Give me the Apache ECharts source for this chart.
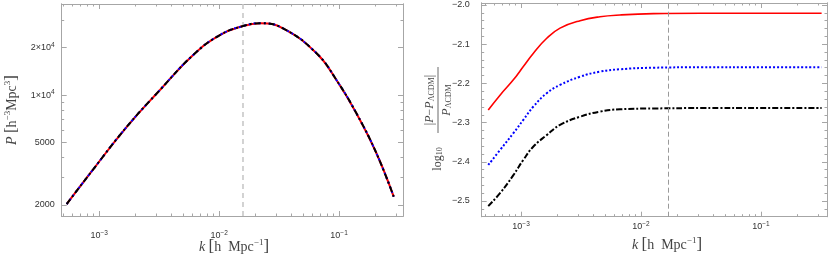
<!DOCTYPE html>
<html><head><meta charset="utf-8">
<script src="https://cdn.jsdelivr.net/npm/echarts@6/dist/echarts.min.js"></script>
<style>html,body{margin:0;padding:0;background:#fff}#c{width:830px;height:255px}</style>
</head><body><div id="c"></div><script>
// ---- data ----
const kLeft = [5.35e-4, 8.91e-4, 1.69e-3, 3.21e-3, 6.07e-3, 0.01014, 0.01585, 0.0221, 0.0341, 0.0649, 0.0951, 0.1396, 0.205, 0.2857];
const pLeft = [2028, 3370, 6260, 10770, 17970, 24080, 27480, 28620, 26560, 18430, 12470, 7650, 4266, 2259];

const kRight = [5.33e-4, 6.68e-4, 8.63e-4, 1.045e-3, 1.268e-3, 1.637e-3, 2.113e-3, 3.105e-3, 4.55e-3, 6.68e-3, 0.01268, 0.0316, 0.1, 0.32];
const redRight = [-2.268, -2.230, -2.191, -2.157, -2.123, -2.085, -2.059, -2.040, -2.030, -2.0255, -2.022, -2.021, -2.021, -2.021];
const blueRight = [-2.408, -2.370, -2.327, -2.293, -2.259, -2.225, -2.204, -2.183, -2.170, -2.164, -2.160, -2.159, -2.159, -2.159];
const blackRight = [-2.513, -2.480, -2.434, -2.395, -2.361, -2.332, -2.306, -2.285, -2.272, -2.266, -2.264, -2.263, -2.263, -2.263];

const kTickLabels = [1e-3, 1e-2, 1e-1];
const pTickLabels = [2000, 5000, 10000, 20000];
const pMinorTicks = [3000, 4000, 6000, 7000, 8000, 9000, 30000];
const dTickLabels = [-2.5, -2.4, -2.3, -2.2, -2.1, -2.0];
const kMarkLeft = 0.0160;
const kMarkRight = 0.0170;

// ---- helpers ----
const L = Math.log10;
const frame = '#a6a6a6';
const sans = 'Liberation Sans, Arial, sans-serif';
const serif = 'Liberation Serif, Times New Roman, serif';
const labColor = '#333';

function minorDecades(lo, hi) {
  const out = [];
  for (let d = Math.floor(lo); d <= Math.ceil(hi); d++)
    for (let m = 2; m <= 9; m++) { const v = d + L(m); if (v > lo && v < hi) out.push(v); }
  return out;
}
function tickAxis(g, pos, min, max, vals, len, label) {
  return {
    type: 'value', gridIndex: g, position: pos, min: min, max: max,
    axisLine: { show: true, onZero: false, lineStyle: { color: frame, width: 1 } },
    axisTick: { show: true, inside: true, length: len, customValues: vals, lineStyle: { color: frame, width: 1 } },
    axisLabel: label ? Object.assign({ customValues: vals }, label) : { show: false },
    splitLine: { show: false }, z: 3
  };
}
const xAxes = [], yAxes = [], series = [];
const addX = a => { xAxes.push(a); return xAxes.length - 1; };
const addY = a => { yAxes.push(a); return yAxes.length - 1; };

const xLabelRich = {
  b: { fontFamily: sans, fontSize: 9, color: labColor, lineHeight: 12 },
  s: { fontFamily: sans, fontSize: 6.5, color: labColor, verticalAlign: 'top', lineHeight: 8 }
};
const xLabelFmt = v => '{b|10}{s|−' + Math.abs(Math.round(v)) + '}';
const lineOpts = { smooth: 0.45, showSymbol: false };

// ---- left panel (logarithmic axes: values plotted as log10) ----
const lkMin = 4.864e-4, lkMax = 0.3415, pMin = 1702, pMax = 37920;
const lx0 = L(lkMin), lx1 = L(lkMax), ly0 = L(pMin), ly1 = L(pMax);
const xDataL = addX(tickAxis(0, 'bottom', lx0, lx1, kTickLabels.map(L), 5, { formatter: xLabelFmt, rich: xLabelRich, margin: 14 }));
addX(tickAxis(0, 'bottom', lx0, lx1, minorDecades(lx0, lx1), 2.5, null));
addX(tickAxis(0, 'top', lx0, lx1, kTickLabels.map(L), 5, null));
addX(tickAxis(0, 'top', lx0, lx1, minorDecades(lx0, lx1), 2.5, null));
const yDataL = addY(tickAxis(0, 'left', ly0, ly1, pTickLabels.map(L), 5, {
  margin: 7,
  formatter: v => { const p = Math.round(Math.pow(10, v)); return p >= 10000 ? '{b|' + Math.round(p / 10000) + '×10}{s|4}' : '{b|' + p + '}'; },
  rich: xLabelRich
}));
addY(tickAxis(0, 'left', ly0, ly1, pMinorTicks.map(L), 2.5, null));
addY(tickAxis(0, 'right', ly0, ly1, pTickLabels.map(L), 5, null));
addY(tickAxis(0, 'right', ly0, ly1, pMinorTicks.map(L), 2.5, null));

const leftData = kLeft.map((k, i) => [L(k), L(pLeft[i])]);
series.push(Object.assign({ type: 'line', xAxisIndex: xDataL, yAxisIndex: yDataL, data: leftData,
  lineStyle: { color: '#ff0000', width: 2 }, z: 4,
  markLine: { silent: true, symbol: 'none', label: { show: false }, animation: false,
    lineStyle: { color: '#c8c8c8', type: [5, 4], width: 1.6 }, data: [{ xAxis: L(kMarkLeft) }] } }, lineOpts));
series.push(Object.assign({ type: 'line', xAxisIndex: xDataL, yAxisIndex: yDataL, data: leftData,
  lineStyle: { color: '#0000ff', width: 2, type: [2, 3] }, z: 5 }, lineOpts));
series.push(Object.assign({ type: 'line', xAxisIndex: xDataL, yAxisIndex: yDataL, data: leftData,
  lineStyle: { color: '#000000', width: 2, type: [6, 3, 2, 3] }, z: 6 }, lineOpts));

// ---- right panel ----
const rkMin = 4.70e-4, rkMax = 0.3548, dMin = -2.54, dMax = -1.995;
const rx0 = L(rkMin), rx1 = L(rkMax);
const dMinor = [];
for (let i = 0; i <= 27; i++) { const v = -2.54 + i * 0.02; if (Math.abs(Math.round(v * 10) - v * 10) > 0.01) dMinor.push(+v.toFixed(2)); }
const xDataR = addX(tickAxis(1, 'bottom', rx0, rx1, kTickLabels.map(L), 5, { formatter: xLabelFmt, rich: xLabelRich, margin: 4 }));
addX(tickAxis(1, 'bottom', rx0, rx1, minorDecades(rx0, rx1), 2.5, null));
addX(tickAxis(1, 'top', rx0, rx1, kTickLabels.map(L), 5, null));
addX(tickAxis(1, 'top', rx0, rx1, minorDecades(rx0, rx1), 2.5, null));
const yDataR = addY(tickAxis(1, 'left', dMin, dMax, dTickLabels, 5, {
  margin: 12, fontFamily: sans, fontSize: 9, color: labColor,
  formatter: v => (v < 0 ? '−' : '') + Math.abs(v).toFixed(1)
}));
addY(tickAxis(1, 'left', dMin, dMax, dMinor, 2.5, null));
addY(tickAxis(1, 'right', dMin, dMax, dTickLabels, 5, null));
addY(tickAxis(1, 'right', dMin, dMax, dMinor, 2.5, null));

series.push(Object.assign({ type: 'line', xAxisIndex: xDataR, yAxisIndex: yDataR, data: kRight.map((k, i) => [L(k), redRight[i]]),
  lineStyle: { color: '#ff0000', width: 1.6 }, z: 4,
  markLine: { silent: true, symbol: 'none', label: { show: false }, animation: false,
    lineStyle: { color: '#9a9a9a', type: [5, 3], width: 1 }, data: [{ xAxis: L(kMarkRight) }] } }, lineOpts));
series.push(Object.assign({ type: 'line', xAxisIndex: xDataR, yAxisIndex: yDataR, data: kRight.map((k, i) => [L(k), blueRight[i]]),
  lineStyle: { color: '#0000ff', width: 2, type: [2, 2] }, z: 4 }, lineOpts));
series.push(Object.assign({ type: 'line', xAxisIndex: xDataR, yAxisIndex: yDataR, data: kRight.map((k, i) => [L(k), blackRight[i]]),
  lineStyle: { color: '#000000', width: 2, type: [6, 2, 2, 2] }, z: 4 }, lineOpts));

// ---- titles ----
const tCol = '#444';
const richT = {
  i: { fontFamily: serif, fontStyle: 'italic', fontSize: 14, fill: tCol },
  t: { fontFamily: serif, fontSize: 14, fill: tCol },
  br: { fontFamily: serif, fontSize: 17, fill: tCol },
  s: { fontFamily: serif, fontSize: 9, fill: tCol, verticalAlign: 'top', lineHeight: 9 },
  u: { fontFamily: serif, fontSize: 8, fill: tCol, verticalAlign: 'bottom', lineHeight: 8 },
  si: { fontFamily: serif, fontStyle: 'italic', fontSize: 12, fill: tCol },
  st: { fontFamily: serif, fontSize: 12, fill: tCol }
};
function txt(x, y, text, rot) {
  return { type: 'text', x: x, y: y, rotation: rot || 0, z: 10,
    style: { text: text, rich: richT, align: 'center', verticalAlign: 'middle', textAlign: 'center', textVerticalAlign: 'middle', fill: tCol } };
}
const graphics = [
  txt(234, 247, '{i|k} {br|[}{t|h  Mpc}{s|−1}{br|]}'),
  txt(667, 245, '{i|k} {br|[}{t|h  Mpc}{s|−1}{br|]}'),
  txt(12, 110, '{i|P} {br|[}{t|h}{s|−3}{t|Mpc}{s|3}{br|]}', Math.PI / 2),
  { type: 'group', x: 438, y: 121, rotation: Math.PI / 2, children: [
    { type: 'text', x: -38, y: 0, style: { text: '{st|log}{u|10}', rich: richT, align: 'center', verticalAlign: 'middle', textAlign: 'center', textVerticalAlign: 'middle' } },
    { type: 'text', x: 21, y: -8, style: { text: '{st||}{si|P}{st|−}{si|P}{u|ΛCDM}{st||}', rich: richT, align: 'center', verticalAlign: 'middle', textAlign: 'center', textVerticalAlign: 'middle' } },
    { type: 'line', shape: { x1: -12, y1: 0, x2: 54, y2: 0 }, style: { stroke: tCol, lineWidth: 0.8 } },
    { type: 'text', x: 21, y: 9, style: { text: '{si|P}{u|ΛCDM}', rich: richT, align: 'center', verticalAlign: 'middle', textAlign: 'center', textVerticalAlign: 'middle' } }
  ] }
];

const chart = echarts.init(document.getElementById('c'), null, { renderer: 'canvas' });
chart.setOption({
  animation: false,
  backgroundColor: '#ffffff',
  grid: [
    { left: 61.7, top: 4, width: 341.3, height: 212, outerBoundsMode: 'none', containLabel: false },
    { left: 481.7, top: 3, width: 345.3, height: 213.7, outerBoundsMode: 'none', containLabel: false }
  ],
  xAxis: xAxes, yAxis: yAxes, series: series, graphic: graphics
});
</script></body></html>
